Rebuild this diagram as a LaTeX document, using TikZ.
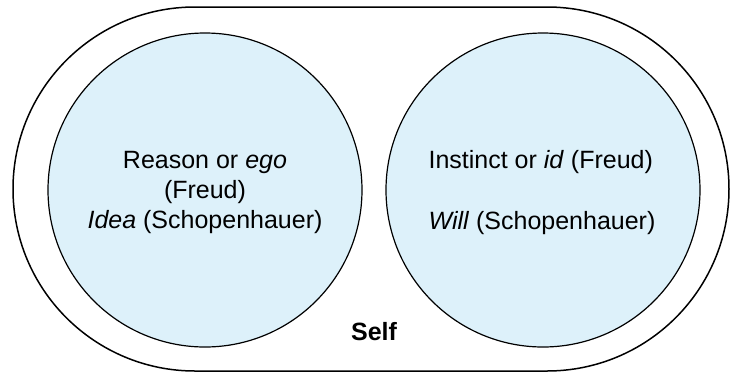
\documentclass[tikz,border=0pt]{standalone}
\usepackage{fontspec}
\setmainfont{Liberation Sans}
\definecolor{bubble}{RGB}{221,241,250}
\begin{document}
\begin{tikzpicture}[x=1pt,y=-1pt,line width=1.2pt,
		half/.style={circle,draw,fill=bubble,minimum size=314pt,inner sep=0pt},
		words/.style={font=\fontsize{25}{30}\selectfont,inner sep=0pt}]
			\useasboundingbox (0,0) rectangle (732,376);
			\draw[line width=1.5pt,rounded corners=182pt] (13,7) rectangle (729,371);
			
			\node[half] (ego) at (205,190) {};
			\node[half] (id) at (543,190) {};
			
			\node[words,anchor=base] (reason) at (205,168) {Reason or \textit{ego}};
			\node[words,anchor=base] (freud) at (205,198) {(Freud)};
			\node[words,anchor=base] (idea) at (205,228) {\textit{Idea} (Schopenhauer)};
			\node[words,anchor=base west] (instinct) at (428,168) {Instinct or \textit{id} (Freud)};
			\node[words,anchor=base west] (will) at (428,229) {\textit{Will} (Schopenhauer)};
			\node[words,anchor=base,font=\fontsize{25}{30}\selectfont\bfseries] (self) at (374,340) {Self};
		\end{tikzpicture}
\end{document}
